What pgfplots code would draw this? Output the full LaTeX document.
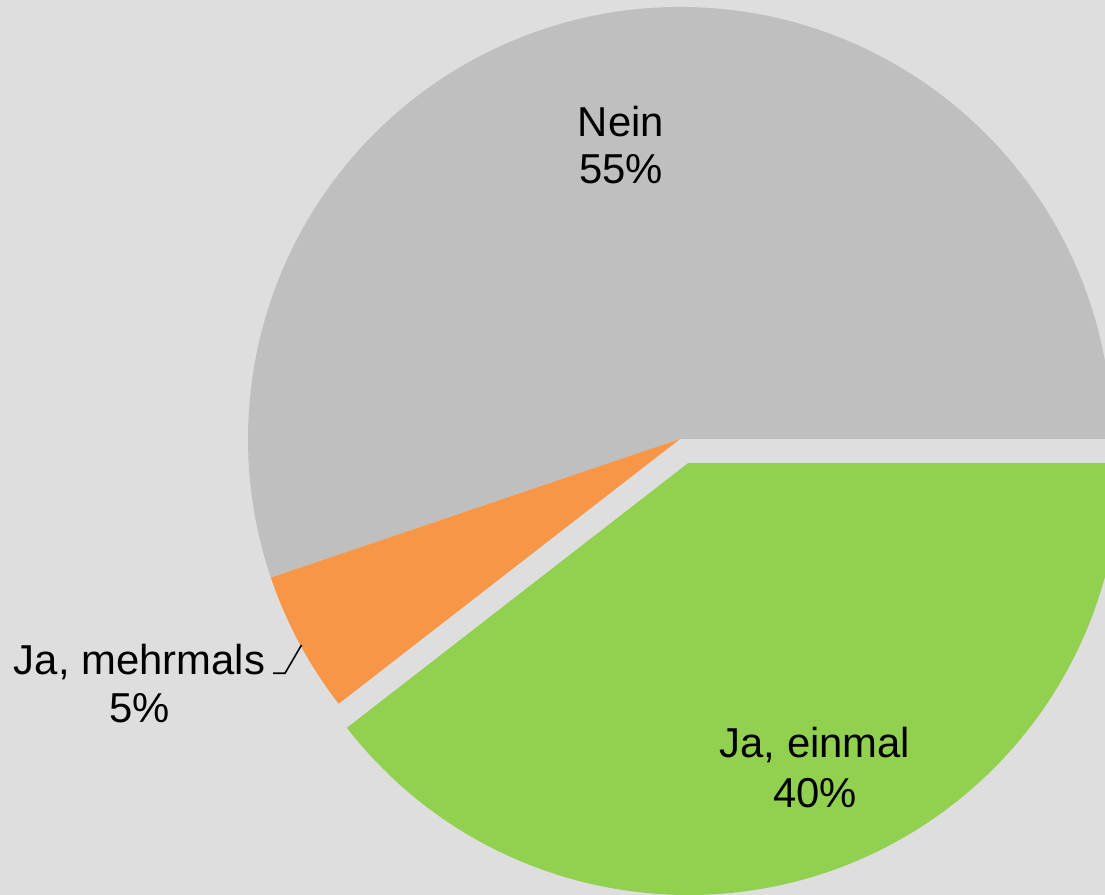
\documentclass[border=0pt]{standalone}
\usepackage{fontspec}
\setmainfont{Liberation Sans}
\usepackage{pgfplots}
\usepackage{pgfplotstable}
\pgfplotsset{compat=1.18}
\definecolor{bgc}{HTML}{DEDEDE}
\definecolor{nein}{HTML}{BFBFBF}
\definecolor{mehr}{HTML}{F79646}
\definecolor{einm}{HTML}{92D050}

% share of answers, in percent
\pgfplotstableread{
label value
Nein 55.2
mehrmals 5.3
einmal 39.5
}\piedata

\pgfplotstablegetelem{0}{value}\of\piedata \let\vNein\pgfplotsretval
\pgfplotstablegetelem{1}{value}\of\piedata \let\vMehr\pgfplotsretval
\pgfplotstablegetelem{2}{value}\of\piedata \let\vEin\pgfplotsretval

% slice angles (start at east, counter-clockwise)
\pgfmathsetmacro\aA{3.6*\vNein}
\pgfmathsetmacro\aB{\aA+3.6*\vMehr}
\pgfmathsetmacro\aC{\aB+3.6*\vEin}
\pgfmathsetmacro\aMid{(\aB+\aC)/2}
\pgfmathsetmacro\ex{25.4*cos(\aMid)}
\pgfmathsetmacro\ey{25.4*sin(\aMid)}

\newcommand\lbl{\fontsize{11.9}{13.4}\selectfont}
\newcommand\pct[1]{\pgfmathprintnumber[fixed,precision=0,assume math mode=true]{#1}\%}

\begin{document}
\begin{tikzpicture}
\begin{axis}[
    scale only axis,
    width=11.05cm, height=8.95cm,
    xmin=0, xmax=1105, ymin=0, ymax=895,
    hide axis,
    clip=true,
]
\fill[bgc] (axis cs:0,0) rectangle (axis cs:1105,895);
% Nein
\fill[nein] (axis cs:680,456) -- ++(0:4.32cm)
    arc[start angle=0, end angle=\aA, radius=4.32cm] -- cycle;
% Ja, mehrmals
\fill[mehr] (axis cs:680,456) -- ++(\aA:4.32cm)
    arc[start angle=\aA, end angle=\aB, radius=4.32cm] -- cycle;
% Ja, einmal (pulled out)
\fill[einm] (axis cs:680+\ex,456+\ey) -- ++(\aB:4.32cm)
    arc[start angle=\aB, end angle=\aC, radius=4.32cm] -- cycle;

\node[anchor=base, font=\lbl] at (axis cs:621,758.3) {Nein};
\node[anchor=base, font=\lbl] at (axis cs:621,711.7) {\pct{\vNein}};
\node[anchor=base, font=\lbl] at (axis cs:815,137.7) {Ja, einmal};
\node[anchor=base, font=\lbl] at (axis cs:815,87.7) {\pct{\vEin}};
\node[anchor=base, font=\lbl] at (axis cs:139.5,220) {Ja, mehrmals};
\node[anchor=base, font=\lbl] at (axis cs:139.5,172.3) {\pct{\vMehr}};
\draw[black, line width=0.45pt] (axis cs:273,221.7) -- (axis cs:285,221.7)
    -- (axis cs:301.5,250);
\end{axis}
\pgfresetboundingbox
\path (0,0) rectangle (11.05cm,8.95cm);
\end{tikzpicture}
\end{document}
